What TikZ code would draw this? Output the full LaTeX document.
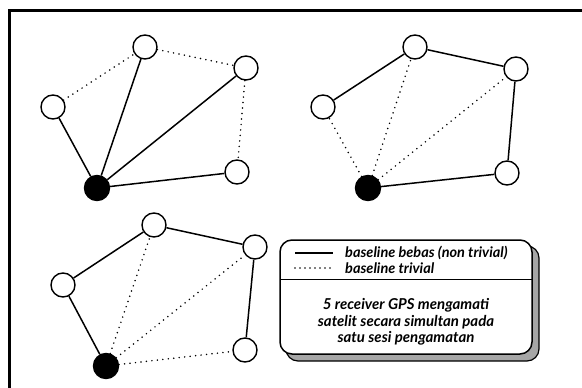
\documentclass[tikz,border=0pt]{standalone}
\usepackage{fontspec}
\setmainfont{Liberation Serif}
\newfontfamily\lblfont{Lato}
\begin{document}
\begin{tikzpicture}[x=1pt,y=-1pt,
  rcv/.style={circle,draw,line width=1.4pt,fill=white,minimum size=24pt,inner sep=0pt},
  ref/.style={circle,draw,line width=1.4pt,fill=black,minimum size=25pt,inner sep=0pt},
  free/.style={line width=1.5pt},
  triv/.style={line width=1.7pt,line cap=round,dash pattern=on 0pt off 5.5pt},
  lbl/.style={font=\lblfont\fontsize{14.5}{15}\selectfont\bfseries\itshape,inner sep=0pt},
  msg/.style={font=\lblfont\fontsize{15}{16}\selectfont\bfseries\itshape,inner sep=0pt}]
\useasboundingbox (0,0) rectangle (582,388);
% frame (top and left edges)
\coordinate (fl) at (9,388);
\coordinate (ftl) at (9,10);
\coordinate (fr) at (582,10);
\draw[line width=3pt] (fl) -- (ftl) -- (fr);
% panel 1
\node[rcv] (a1) at (53,107) {};
\node[rcv] (b1) at (145,47) {};
\node[rcv] (c1) at (246,68) {};
\node[rcv] (d1) at (237,172) {};
\node[ref] (e1) at (97,188) {};
\draw[free] (e1) -- (a1); \draw[free] (e1) -- (b1);
\draw[free] (e1) -- (c1); \draw[free] (e1) -- (d1);
\draw[triv] (a1) -- (b1); \draw[triv] (b1) -- (c1); \draw[triv] (c1) -- (d1);
% panel 2
\node[rcv] (a2) at (323,107) {};
\node[rcv] (b2) at (415,47) {};
\node[rcv] (c2) at (516,69) {};
\node[rcv] (d2) at (507,173) {};
\node[ref] (e2) at (368,188) {};
\draw[free] (a2) -- (b2); \draw[free] (b2) -- (c2);
\draw[free] (c2) -- (d2); \draw[free] (d2) -- (e2);
\draw[triv] (e2) -- (a2); \draw[triv] (e2) -- (b2); \draw[triv] (e2) -- (c2);
% panel 3
\node[rcv] (a3) at (63,285) {};
\node[rcv] (b3) at (154,225) {};
\node[rcv] (c3) at (255,247) {};
\node[rcv] (d3) at (245,350) {};
\node[ref] (e3) at (106,366) {};
\draw[free] (e3) -- (a3); \draw[free] (a3) -- (b3);
\draw[free] (b3) -- (c3); \draw[free] (c3) -- (d3);
\draw[triv] (e3) -- (b3); \draw[triv] (e3) -- (c3); \draw[triv] (e3) -- (d3);
% legend box with shadow
\coordinate (sh1) at (286,246);
\coordinate (sh2) at (539,361);
\draw[line width=1.2pt,fill=black!35,rounded corners=12pt] (sh1) rectangle (sh2);
\coordinate (lb1) at (280,240);
\coordinate (lb2) at (532,354);
\draw[line width=1.5pt,fill=white,rounded corners=12pt] (lb1) rectangle (lb2);
\coordinate (dvl) at (280,279);
\coordinate (dvr) at (532,279);
\draw[line width=0.9pt] (dvl) -- (dvr);
\coordinate (s1) at (295,253); \coordinate (s2) at (333,253);
\draw[line width=1.2pt] (s1) -- (s2);
\coordinate (t1) at (295,268); \coordinate (t2) at (333,268);
\draw[line width=1.7pt,line cap=round,dash pattern=on 0pt off 5pt] (t1) -- (t2);
\node[lbl,anchor=west] (l1) at (345,253) {baseline bebas (non trivial)};
\node[lbl,anchor=west] (l2) at (345,268) {baseline trivial};
\node[msg] (m1) at (406,305) {5 receiver GPS mengamati};
\node[msg] (m2) at (406,322) {satelit secara simultan pada};
\node[msg] (m3) at (406,338) {satu sesi pengamatan};
\end{tikzpicture}
\end{document}
